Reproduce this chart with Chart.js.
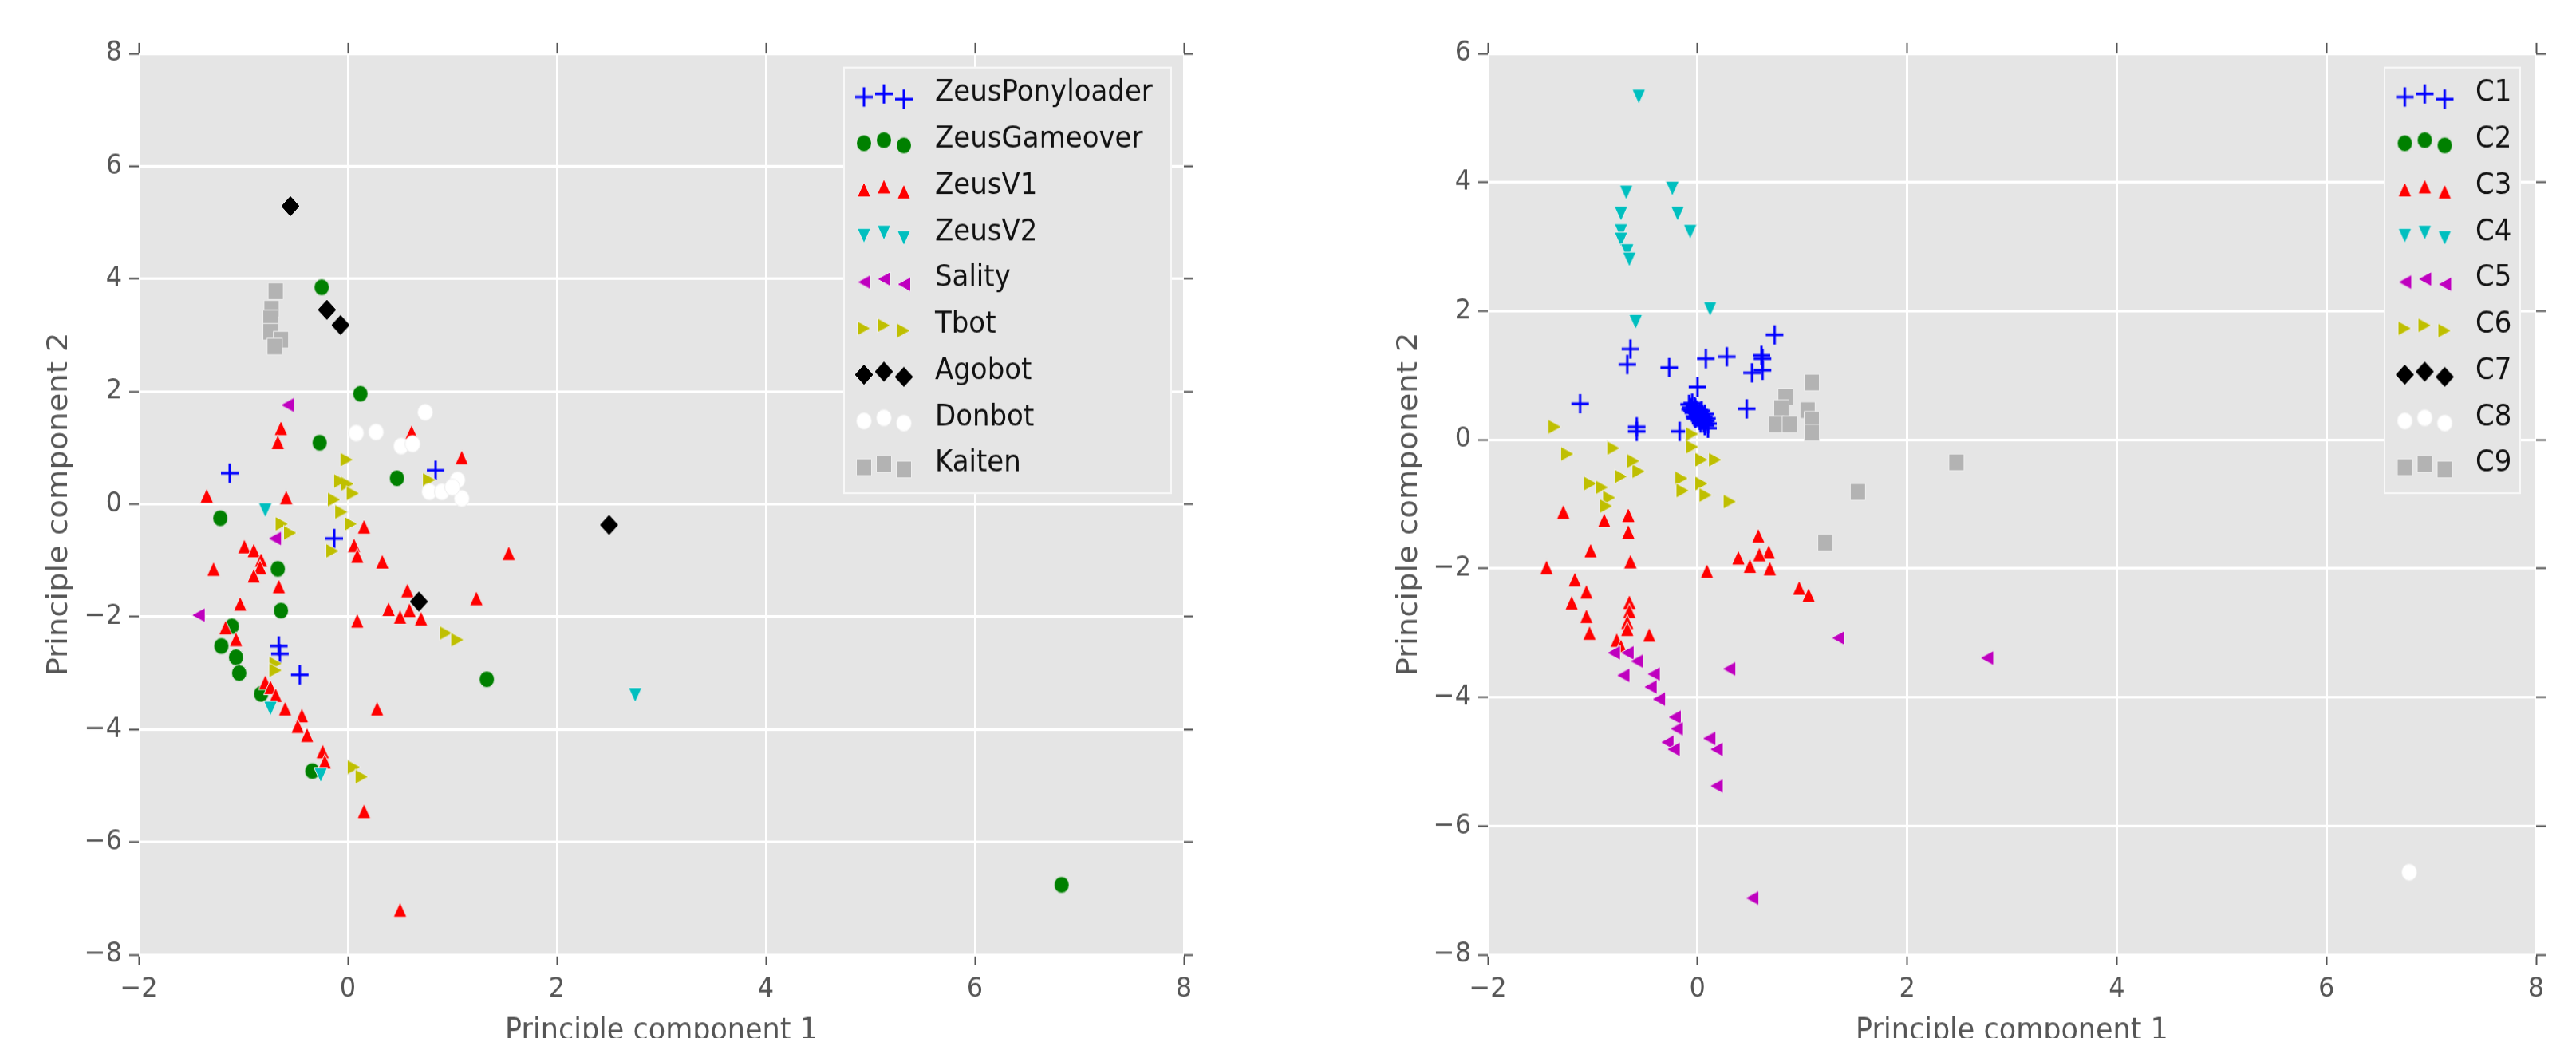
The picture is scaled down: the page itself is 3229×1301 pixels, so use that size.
<!DOCTYPE html>
<html>
<head>
<meta charset="utf-8">
<script src="https://cdn.jsdelivr.net/npm/chart.js@4/dist/chart.umd.min.js"></script>
<style>
  html, body { margin: 0; padding: 0; background: #fff; overflow: hidden; }
  #wrap { position: relative; width: 3229px; height: 1301px; overflow: hidden; background: #fff; }
  /* the reference is a little taller than wide, so both panels are stretched vertically */
  .panel { position: absolute; top: 0; transform-origin: 0 0; transform: scaleY(1.09975); }
</style>
</head>
<body>
<div id="wrap">
  <div class="panel" style="left:0"><canvas id="leftChart" width="1615" height="1223" style="width:1615px;height:1223px"></canvas></div>
  <div class="panel" style="left:1615px"><canvas id="rightChart" width="1614" height="1223" style="width:1614px;height:1223px"></canvas></div>
</div>
<script>
// tick values
const xTicks = [-2, 0, 2, 4, 6, 8];
const leftYTicks = [-8, -6, -4, -2, 0, 2, 4, 6, 8];
const rightYTicks = [-8, -6, -4, -2, 0, 2, 4, 6];

// series look, shared by both panels (in plotting order)
const seriesColors = ['#0000FF', '#008000', '#FF0000', '#00BFBF', '#BF00BF', '#BFBF00', '#000000', '#FFFFFF', '#B3B3B3'];
const seriesShapes = ['plus', 'circle', 'triUp', 'triDown', 'triLeft', 'triRight', 'diamond', 'circle', 'square'];

// LEFT PANEL: true families, [PC1, PC2]
const leftLabels = ['ZeusPonyloader', 'ZeusGameover', 'ZeusV1', 'ZeusV2', 'Sality', 'Tbot', 'Agobot', 'Donbot', 'Kaiten'];
const zeusPonyloader = [[-1.13, 0.55], [0.84, 0.60], [-0.13, -0.61], [-0.66, -2.52], [-0.65, -2.66], [-0.46, -3.03]];
const zeusGameover = [[-0.25, 3.85], [0.12, 1.96], [-0.27, 1.09], [0.47, 0.46], [-1.22, -0.25], [-0.67, -1.15],
  [-0.64, -1.89], [-1.11, -2.17], [-1.21, -2.52], [-1.07, -2.72], [-1.04, -3.0], [-0.83, -3.37], [-0.34, -4.74],
  [1.33, -3.11], [6.83, -6.76]];
const zeusV1 = [[-0.64, 1.35], [-0.67, 1.10], [0.61, 1.28], [1.09, 0.83], [-1.35, 0.15], [-0.59, 0.12], [0.155, -0.40],
  [-0.99, -0.75], [-0.90, -0.82], [0.06, -0.73], [0.09, -0.92], [0.33, -1.02], [1.54, -0.87], [-0.83, -0.99],
  [-0.84, -1.12], [-1.285, -1.15], [-0.90, -1.27], [-0.66, -1.46], [-1.03, -1.77], [0.57, -1.53], [0.39, -1.86],
  [0.59, -1.88], [0.50, -2.0], [0.70, -2.03], [0.09, -2.07], [1.23, -1.67], [-1.17, -2.19], [-1.07, -2.40],
  [-0.79, -3.16], [-0.74, -3.25], [-0.69, -3.39], [-0.60, -3.63], [-0.44, -3.75], [-0.48, -3.94], [-0.39, -4.10],
  [-0.24, -4.39], [-0.22, -4.57], [0.28, -3.63], [0.155, -5.45], [0.50, -7.20]];
const zeusV2 = [[-0.79, -0.11], [-0.74, -3.63], [-0.26, -4.81], [2.75, -3.39]];
const sality = [[-0.58, 1.76], [-0.70, -0.61], [-1.43, -1.97]];
const tbot = [[-0.01, 0.79], [-0.07, 0.41], [0.0, 0.36], [0.05, 0.19], [-0.13, 0.08], [-0.06, -0.14], [0.03, -0.35],
  [-0.63, -0.35], [-0.55, -0.51], [-0.145, -0.83], [0.78, 0.43], [-0.69, -2.83], [-0.69, -2.95], [0.94, -2.29],
  [1.05, -2.41], [0.06, -4.67], [0.135, -4.84]];
const agobot = [[-0.55, 5.29], [-0.20, 3.45], [-0.07, 3.18], [0.68, -1.73], [2.50, -0.37]];
const donbot = [[0.74, 1.63], [0.08, 1.26], [0.27, 1.28], [0.51, 1.03], [0.62, 1.07], [1.05, 0.43], [0.78, 0.22],
  [0.90, 0.22], [1.09, 0.10], [1.0, 0.30]];
const kaiten = [[-0.69, 3.78], [-0.73, 3.47], [-0.74, 3.30], [-0.74, 3.06], [-0.64, 2.92], [-0.70, 2.80]];

// RIGHT PANEL: clusters, [PC1, PC2]
const rightLabels = ['C1', 'C2', 'C3', 'C4', 'C5', 'C6', 'C7', 'C8', 'C9'];
const c1 = [[0.735, 1.63], [-0.64, 1.41], [-0.67, 1.17], [-0.27, 1.12], [0.08, 1.26], [0.28, 1.29], [0.61, 1.31],
  [0.62, 1.26], [0.52, 1.04], [0.62, 1.08], [0.0, 0.82], [-1.12, 0.56], [0.47, 0.48], [-0.58, 0.20], [-0.58, 0.13],
  [-0.17, 0.13], [-0.05, 0.57], [-0.03, 0.52], [-0.01, 0.46], [0.0, 0.40], [0.01, 0.37], [0.03, 0.34], [0.05, 0.31],
  [0.07, 0.22], [-0.03, 0.36], [0.04, 0.45], [0.08, 0.29], [-0.05, 0.45], [0.10, 0.18],
  [-0.08, 0.55], [-0.06, 0.50], [-0.04, 0.42], [-0.02, 0.50], [0.02, 0.42], [0.02, 0.30], [0.04, 0.38],
  [0.06, 0.36], [0.06, 0.26], [0.09, 0.33], [0.10, 0.25], [0.03, 0.26], [-0.02, 0.33], [0.07, 0.40], [-0.07, 0.47]];
const c2 = [];
const c3 = [[-1.28, -1.12], [-0.89, -1.25], [-0.66, -1.17], [-0.66, -1.43], [-1.02, -1.72], [-0.64, -1.89],
  [-1.44, -1.98], [-1.17, -2.17], [-1.06, -2.36], [-1.20, -2.53], [-0.65, -2.52], [-1.06, -2.74], [-0.65, -2.66],
  [-0.67, -2.83], [-0.67, -2.94], [-1.03, -3.00], [-0.46, -3.03], [-0.77, -3.11], [-0.73, -3.21], [0.58, -1.49],
  [0.39, -1.83], [0.68, -1.74], [0.59, -1.78], [0.50, -1.96], [0.69, -2.00], [0.09, -2.04], [0.97, -2.30],
  [1.06, -2.41]];
const c4 = [[-0.56, 5.33], [-0.68, 3.84], [-0.24, 3.90], [-0.73, 3.51], [-0.19, 3.51], [-0.07, 3.23], [-0.73, 3.24],
  [-0.73, 3.11], [-0.67, 2.93], [-0.65, 2.80], [0.12, 2.03], [-0.59, 1.83]];
const c5 = [[1.34, -3.08], [-0.80, -3.31], [-0.67, -3.31], [-0.58, -3.44], [-0.71, -3.66], [-0.42, -3.64],
  [0.30, -3.56], [-0.45, -3.84], [-0.37, -4.03], [-0.22, -4.31], [-0.20, -4.49], [-0.29, -4.70], [-0.23, -4.81],
  [0.11, -4.64], [0.18, -4.81], [0.18, -5.38], [0.52, -7.12], [2.76, -3.39]];
const c6 = [[-1.36, 0.20], [-0.80, -0.13], [-1.24, -0.22], [-0.05, 0.09], [-0.05, -0.11], [0.04, -0.31],
  [0.17, -0.31], [-0.56, -0.49], [-0.61, -0.33], [-0.73, -0.57], [-0.15, -0.60], [-1.02, -0.68], [-0.91, -0.74],
  [0.04, -0.68], [-0.14, -0.79], [-0.84, -0.90], [-0.87, -1.03], [0.08, -0.86], [0.31, -0.96]];
const c7 = [];
const c8 = [[6.79, -6.72]];
const c9 = [[1.09, 0.89], [0.84, 0.67], [0.80, 0.49], [1.05, 0.46], [0.75, 0.24], [0.88, 0.24], [1.09, 0.31],
  [1.09, 0.11], [1.53, -0.81], [1.22, -1.60], [2.47, -0.35]];

const leftSeries = [zeusPonyloader, zeusGameover, zeusV1, zeusV2, sality, tbot, agobot, donbot, kaiten];
const rightSeries = [c1, c2, c3, c4, c5, c6, c7, c8, c9];

Chart.defaults.font.family = '"DejaVu Sans", sans-serif';

// small matplotlib-like marker images
function makeMarker(shape, color) {
  const size = 28;
  const c = document.createElement('canvas');
  c.width = size;
  c.height = size;
  const g = c.getContext('2d');
  g.translate(size / 2, size / 2);
  g.beginPath();
  if (shape === 'plus') {
    g.strokeStyle = color;
    g.lineWidth = 3;
    g.moveTo(-11, 0); g.lineTo(11, 0);
    g.moveTo(0, -11); g.lineTo(0, 11);
    g.stroke();
    return c;
  }
  if (shape === 'circle') {
    g.arc(0, 0, 9.5, 0, Math.PI * 2);
  } else if (shape === 'square') {
    g.rect(-9.5, -9.5, 19, 19);
  } else if (shape === 'diamond') {
    g.moveTo(0, -12); g.lineTo(12, 0); g.lineTo(0, 12); g.lineTo(-12, 0); g.closePath();
  } else {
    const pts = {
      triUp: [[0, -8.5], [-8.5, 8.5], [8.5, 8.5]],
      triDown: [[0, 8.5], [-8.5, -8.5], [8.5, -8.5]],
      triLeft: [[-8.5, 0], [8.5, -8.5], [8.5, 8.5]],
      triRight: [[8.5, 0], [-8.5, -8.5], [-8.5, 8.5]]
    }[shape];
    g.moveTo(pts[0][0], pts[0][1]);
    g.lineTo(pts[1][0], pts[1][1]);
    g.lineTo(pts[2][0], pts[2][1]);
    g.closePath();
  }
  g.fillStyle = color;
  g.fill();
  g.strokeStyle = '#EEEEEE';
  g.lineWidth = 1;
  g.stroke();
  return c;
}

const markers = seriesShapes.map((s, i) => makeMarker(s, seriesColors[i]));

// grey plot background
const plotBg = {
  id: 'plotBg',
  beforeDraw(chart) {
    const { ctx, chartArea: a } = chart;
    ctx.save();
    ctx.fillStyle = '#E5E5E5';
    ctx.fillRect(a.left, a.top, a.right - a.left, a.bottom - a.top);
    ctx.restore();
  }
};

// legend box with three markers per entry, like matplotlib scatter legends
const markerDy = [4, 0.5, 6.5];
const legendBox = {
  id: 'legendBox',
  afterDraw(chart, args, opts) {
    const ctx = chart.ctx;
    ctx.save();
    ctx.fillStyle = '#E5E5E5';
    ctx.fillRect(opts.left, opts.top, opts.width, opts.height);
    ctx.strokeStyle = '#F8F8F8';
    ctx.lineWidth = 2;
    ctx.strokeRect(opts.left, opts.top, opts.width, opts.height);
    ctx.font = '34px "DejaVu Sans"';
    ctx.textBaseline = 'middle';
    ctx.textAlign = 'left';
    ctx.fillStyle = '#111111';
    chart.data.datasets.forEach((ds, i) => {
      const y = opts.firstRow + i * opts.rowGap;
      const img = ds.pointStyle;
      for (let k = 0; k < 3; k++) {
        ctx.drawImage(img, opts.markerX + k * 25 - img.width / 2, y + markerDy[k] - img.height / 2);
      }
      ctx.fillText(ds.label, opts.textX, y);
    });
    ctx.restore();
  }
};

function tickText(v) {
  return v < 0 ? '\u2212' + Math.abs(v) : String(v);
}

function setTicks(arr) {
  return scale => { scale.ticks = arr.map(v => ({ value: v })); };
}

function buildScales(yMin, yMax, yTicks, box) {
  const tickGrid = { color: '#FFFFFF', lineWidth: 3, tickColor: '#555555', tickLength: 12, tickWidth: 2 };
  const sideGrid = { drawOnChartArea: false, tickColor: '#555555', tickLength: 12, tickWidth: 2 };
  return {
    x: {
      type: 'linear', position: 'bottom', min: -2, max: 8,
      afterBuildTicks: setTicks(xTicks),
      afterFit: s => { s.height = box.bottom; },
      grid: tickGrid,
      border: { display: false },
      ticks: { color: '#555555', font: { size: 32 }, padding: 8, maxRotation: 0, autoSkip: false, callback: tickText },
      title: { display: true, text: 'Principle component 1', color: '#555555', font: { size: 35 },
        padding: { top: 0, bottom: 26 } }
    },
    y: {
      type: 'linear', position: 'left', min: yMin, max: yMax,
      afterBuildTicks: setTicks(yTicks),
      afterFit: s => { s.width = box.left; },
      grid: tickGrid,
      border: { display: false },
      ticks: { color: '#555555', font: { size: 32 }, padding: 9, autoSkip: false, callback: tickText },
      title: { display: true, text: 'Principle component 2', color: '#555555', font: { size: 35 },
        padding: { top: box.titleGap, bottom: 0 } }
    },
    x2: {
      type: 'linear', position: 'top', min: -2, max: 8,
      afterBuildTicks: setTicks(xTicks),
      afterFit: s => { s.height = box.top; },
      grid: sideGrid,
      border: { display: false },
      ticks: { display: false }
    },
    y2: {
      type: 'linear', position: 'right', min: yMin, max: yMax,
      afterBuildTicks: setTicks(yTicks),
      afterFit: s => { s.width = box.right; },
      grid: sideGrid,
      border: { display: false },
      ticks: { display: false }
    }
  };
}

function buildDatasets(labels, series) {
  return series.map((pts, i) => ({
    label: labels[i],
    data: pts.map(p => ({ x: p[0], y: p[1] })),
    pointStyle: markers[i],
    pointRadius: 10,
    order: series.length - i
  }));
}

function makeChart(id, labels, series, yMin, yMax, yTicks, box, legend) {
  return new Chart(document.getElementById(id).getContext('2d'), {
    type: 'scatter',
    data: { datasets: buildDatasets(labels, series) },
    options: {
      responsive: false,
      maintainAspectRatio: false,
      animation: false,
      events: [],
      layout: { padding: 0 },
      scales: buildScales(yMin, yMax, yTicks, box),
      plugins: {
        legend: { display: false },
        tooltip: { enabled: false },
        legendBox: legend
      }
    },
    plugins: [plotBg, legendBox]
  });
}

// left: true labels
makeChart('leftChart', leftLabels, leftSeries, -8, 8, leftYTicks,
  { left: 174, right: 131, top: 61, bottom: 135, titleGap: 54 },
  { left: 1058, top: 77, width: 410, height: 485, markerX: 1083, textX: 1172, firstRow: 106.5, rowGap: 52.75 });

// right: clusters
makeChart('rightChart', rightLabels, rightSeries, -8, 6, rightYTicks,
  { left: 250, right: 50, top: 61, bottom: 135, titleGap: 131 },
  { left: 1374, top: 77, width: 170, height: 485, markerX: 1399.5, textX: 1488, firstRow: 106.5, rowGap: 52.75 });
</script>
</body>
</html>
